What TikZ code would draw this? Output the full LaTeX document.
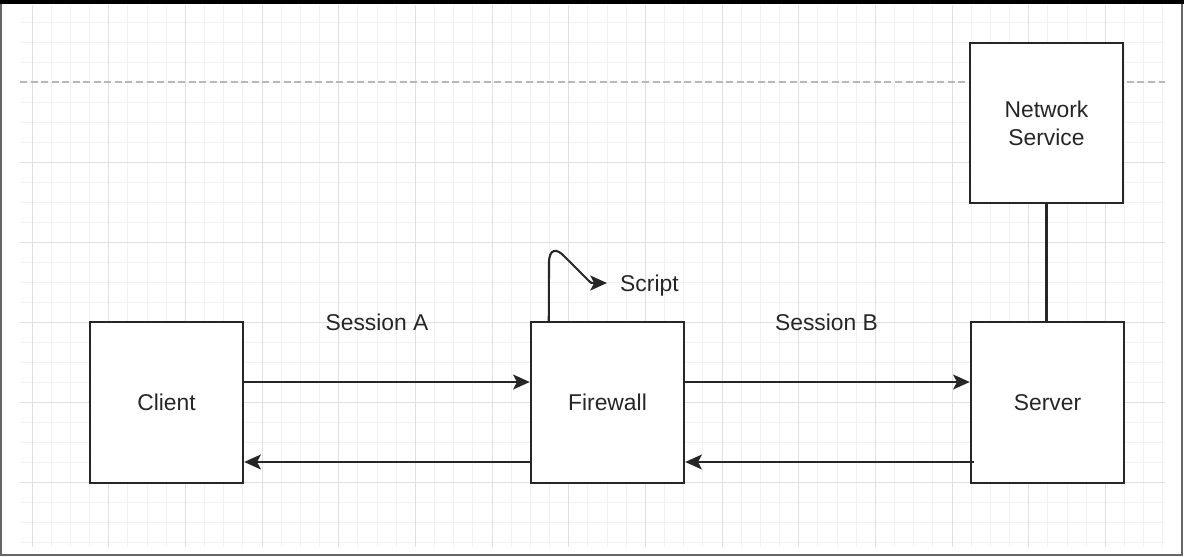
\documentclass[tikz,border=0pt]{standalone}
\usepackage{fontspec}
\setmainfont{Liberation Sans}
\usetikzlibrary{arrows,arrows.meta,positioning}
\tikzstyle{block} = [rectangle, draw=black!85, line width=1.4pt, fill=white, minimum width=3.06cm, minimum height=3.22cm, text centered, text=black!85]
\tikzstyle{txt} = [text=black!85, text depth=0pt]
\tikzstyle{arrow} = [line width=1.2pt, draw=black!85, ->, >={Stealth[length=9.5pt,width=8.5pt,inset=2.2pt]}]
\tikzstyle{minor} = [gray!11, line width=0.5pt]
\tikzstyle{major} = [gray!24, line width=0.5pt]

\begin{document}
\begin{tikzpicture}[x=0.02cm, y=-0.02cm, font=\fontsize{13}{16}\selectfont]
	\useasboundingbox (0,0) rectangle (1184,557);
	% background grid
	\foreach \i in {0,...,59}
		\draw[minor] ({32+\i*19.167},5) -- ({32+\i*19.167},547);
	\foreach \j in {0,...,26}
		\draw[minor] (20,{22+\j*20}) -- (1165,{22+\j*20});
	\foreach \i in {0,4,...,56}
		\draw[major] ({32+\i*19.167},5) -- ({32+\i*19.167},547);
	\foreach \j in {7,11,...,23}
		\draw[major] (20,{22+\j*20}) -- (1165,{22+\j*20});
	\draw[black!28, line width=0.6pt, dash pattern=on 4pt off 2pt] (20,82) -- (1165,82);
	% frame
	\draw[black!60, line width=0.6pt] (1,1) rectangle (1182,555);
	\fill[black] (0,0) rectangle (1184,4);

	\node (client) [block] at (166.5,402.5) {Client};
	\node (fw) [block] at (607.5,402.5) {Firewall};
	\node (server) [block] at (1047.5,402.5) {Server};
	\node (netsvc) [block, minimum height=3.2cm, align=center] at (1046.5,123) {Network\\Service};

	\node (sesa) [txt] at (377,322) {Session A};
	\node (sesb) [txt] at (826.5,322) {Session B};
	\coordinate (scripttip) at (607,283);
	\node (script) [txt, right=4pt of scripttip] {Script};

	\draw[arrow] ([yshift=0.41cm]client.east) -- ([yshift=0.41cm]fw.west);
	\draw[arrow] ([yshift=-1.19cm]fw.west) -- ([yshift=-1.19cm]client.east);
	\draw[arrow] ([yshift=0.41cm]fw.east) -- ([yshift=0.41cm]server.west);
	\draw[arrow] ([xshift=0.08cm,yshift=-1.19cm]server.west) -- ([yshift=-1.19cm]fw.east);
	% the hook from the firewall up to the script label
	\draw[arrow] ([xshift=0.38cm]fw.north west) -- (549,263) .. controls (549,248) and (557,248) .. (565,257) -- (589,281) .. controls (591,283) .. (594,283) -- (scripttip);
	\draw[line width=1.2pt, black!85] (netsvc.south) -- (netsvc.south |- server.north);
\end{tikzpicture}
\end{document}
